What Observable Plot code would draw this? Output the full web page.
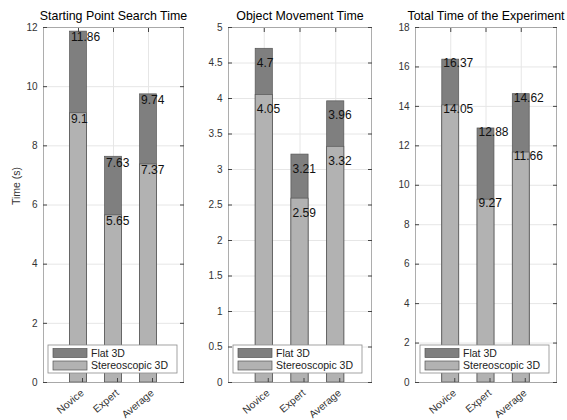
<!DOCTYPE html>
<html><head><meta charset="utf-8">
<script src="https://cdn.jsdelivr.net/npm/d3@7"></script>
<script src="https://cdn.jsdelivr.net/npm/@observablehq/plot@0.6"></script>
<style>
body{margin:0;background:#fff;}
#wrap{position:relative;width:567px;height:420px;overflow:hidden;background:#fff;font-family:"Liberation Sans",Arial,sans-serif;}
#wrap svg{position:absolute;top:0;overflow:visible;}
</style></head><body><div id="wrap"></div>
<script>
// ---- data ----
const groups = ["Novice", "Expert", "Average"];
const series = ["Flat 3D", "Stereoscopic 3D"];
const titles = ["Starting Point Search Time", "Object Movement Time", "Total Time of the Experiment"];
const yLabel = "Time (s)";
const flatSearch = [11.86, 7.63, 9.74];
const stereoSearch = [9.1, 5.65, 7.37];
const flatMove = [4.7, 3.21, 3.96];
const stereoMove = [4.05, 2.59, 3.32];
const flatTotal = [16.37, 12.88, 14.62];
const stereoTotal = [14.05, 9.27, 11.66];
const yMax = [12, 5, 18];
const yStep = [2, 0.5, 2];

// ---- styling / layout ----
const colors = ["#7f7f7f", "#b2b2b2"];
const font = "'Liberation Sans', Arial, sans-serif";
const panels = [
  {flat: flatSearch, stereo: stereoSearch, left: 0, width: 190, ml: 43, mr: 7},
  {flat: flatMove, stereo: stereoMove, left: 190, width: 190, ml: 38, mr: 9},
  {flat: flatTotal, stereo: stereoTotal, left: 380, width: 187, ml: 35, mr: 11}
];

function legendMark() {
  return (index, scales, values, dims) => {
    const g = d3.create("svg:g");
    const lw = 129, lh = 28;
    const x0 = dims.marginLeft + 5;
    const y0 = dims.height - dims.marginBottom - 9 - lh;
    g.append("rect").attr("x", x0).attr("y", y0).attr("width", lw).attr("height", lh)
      .attr("fill", "white").attr("stroke", "#8c8c8c").attr("stroke-width", 0.8);
    series.forEach((s, i) => {
      g.append("rect").attr("x", x0 + 5).attr("y", y0 + 3.5 + i * 12.5).attr("width", 34).attr("height", 9)
        .attr("fill", colors[i]).attr("stroke", "#555").attr("stroke-width", 0.7);
      g.append("text").attr("x", x0 + 43).attr("y", y0 + 8 + i * 12.5).attr("dy", "0.35em")
        .attr("text-anchor", "start")
        .attr("font-size", 10.5).attr("font-family", font).attr("fill", "#222").text(s);
    });
    return g.node();
  };
}

const wrap = document.getElementById("wrap");
panels.forEach((p, k) => {
  const flatRows = groups.map((g, i) => ({group: g, series: series[0], value: p.flat[i]}));
  const stereoRows = groups.map((g, i) => ({group: g, series: series[1], value: p.stereo[i]}));
  const ticks = d3.range(0, yMax[k] + 1e-9, yStep[k]);
  const marks = [
    Plot.gridY(ticks, {stroke: "#e6e6e6", strokeOpacity: 1}),
    Plot.gridX(groups, {stroke: "#e6e6e6", strokeOpacity: 1}),
    Plot.barY(flatRows, {x: "group", y: "value", fill: "series", stroke: "#555", strokeWidth: 0.7}),
    Plot.barY(stereoRows, {x: "group", y: "value", fill: "series", stroke: "#555", strokeWidth: 0.7}),
    Plot.text(flatRows.concat(stereoRows), {x: "group", y: d => d.value - 0.2, text: d => String(d.value),
      textAnchor: "start", dx: -7.5, fontSize: 12, fill: "#111"}),
    Plot.frame({stroke: "#9a9a9a", strokeWidth: 0.8}),
    Plot.axisY(ticks, {anchor: "left", tickSize: -4, tickPadding: 10, fontSize: 10, label: null,
      stroke: "#444", fill: "#333", tickFormat: d => String(d)}),
    Plot.axisY(ticks, {anchor: "right", tickSize: -4, label: null, stroke: "#444", tickFormat: () => ""}),
    Plot.axisX({anchor: "bottom", tickSize: -4, tickPadding: 13, tickRotate: -40, dx: 4, fontSize: 10.3,
      label: null, stroke: "#444", fill: "#333"}),
    Plot.axisX({anchor: "top", tickSize: -4, label: null, stroke: "#444", tickFormat: () => ""}),
    Plot.text([titles[k]], {frameAnchor: "top", text: d => d, lineAnchor: "middle", dy: -11,
      fontSize: 12.4, fill: "#000"}),
    legendMark()
  ];
  if (k === 0) {
    marks.push(Plot.text([yLabel], {frameAnchor: "left", text: d => d, rotate: -90, dx: -27,
      fontSize: 10.5, fill: "#333"}));
  }
  const chart = Plot.plot({
    width: p.width, height: 420,
    marginLeft: p.ml, marginRight: p.mr, marginTop: 27, marginBottom: 38,
    style: {fontFamily: font, background: "transparent", overflow: "visible"},
    x: {type: "band", domain: groups, paddingInner: 0.52, paddingOuter: 0.76, round: false},
    y: {domain: [0, yMax[k]]},
    color: {domain: series, range: colors},
    marks
  });
  chart.style.left = p.left + "px";
  wrap.appendChild(chart);
});
</script></body></html>
